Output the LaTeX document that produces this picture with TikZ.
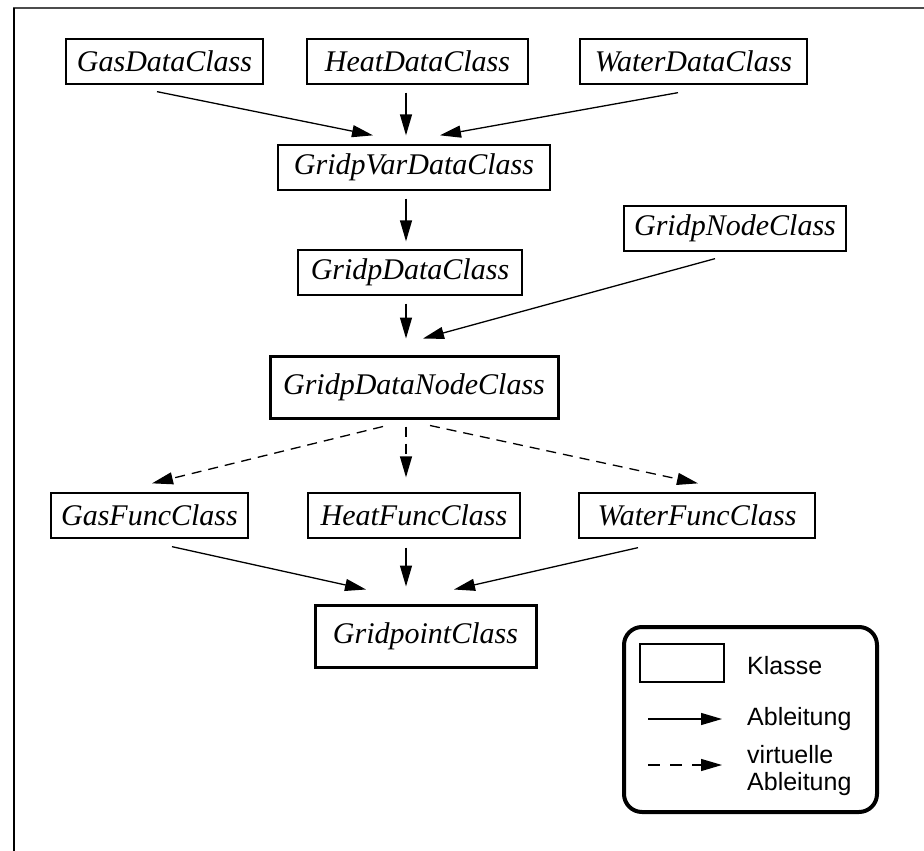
\documentclass[tikz,border=0pt]{standalone}
\usepackage{fontspec}
\setmainfont{Liberation Serif}
\newfontfamily\legendfont{Liberation Sans}
\usetikzlibrary{arrows.meta}
\tikzset{
  cls/.style={draw, line width=1.3pt, inner sep=0pt, minimum height=45pt,
    font=\fontsize{30}{36}\selectfont\itshape},
  clsthick/.style={cls, line width=3pt, minimum height=62pt},
  deriv/.style={line width=1.3pt, -{Triangle[length=21pt,width=12pt]}},
  vderiv/.style={deriv, dash pattern=on 10pt off 7pt},
  legtext/.style={anchor=west, inner sep=0pt, align=left,
    font=\legendfont\fontsize{25}{27}\selectfont},
}
\begin{document}
\begin{tikzpicture}[x=1pt,y=-1pt]
\useasboundingbox (0,0) rectangle (924,851);
% page frame
\draw[line width=2pt, draw=black!70] (13,8.5) -- (924,8.5);
\draw[line width=2pt] (13.5,8) -- (13.5,851);

% classes
\node[cls, minimum width=197pt] (gasdata)   at (164.5,61.5) {GasDataClass};
\node[cls, minimum width=221pt] (heatdata)  at (417.5,61.5) {HeatDataClass};
\node[cls, minimum width=227pt] (waterdata) at (693.5,61.5) {WaterDataClass};
\node[cls, minimum width=272pt] (vardata)   at (414,167.5)  {GridpVarDataClass};
\node[cls, minimum width=224pt] (gdata)     at (410,272.5)  {GridpDataClass};
\node[cls, minimum width=222pt] (gnode)     at (735,228.5)  {GridpNodeClass};
\node[clsthick, minimum width=288pt] (dnode) at (414,387)   {GridpDataNodeClass};
\node[cls, minimum width=197pt] (gasfunc)   at (149.5,515.5) {GasFuncClass};
\node[cls, minimum width=212pt] (heatfunc)  at (414,515.5)  {HeatFuncClass};
\node[cls, minimum width=236pt] (waterfunc) at (697,515.5)  {WaterFuncClass};
\node[clsthick, minimum width=221pt] (gpoint) at (425.5,636) {GridpointClass};

% derivations
\draw[deriv] ([xshift=-7.5pt,yshift=-7pt]gasdata.south)   -- ([xshift=-41pt,yshift=9pt]vardata.north);
\draw[deriv] ([xshift=-11.5pt,yshift=-8pt]heatdata.south) -- ([xshift=-8pt,yshift=9pt]vardata.north);
\draw[deriv] ([xshift=-15.5pt,yshift=-8pt]waterdata.south) -- ([xshift=26pt,yshift=9pt]vardata.north);
\draw[deriv] ([xshift=-8pt,yshift=-8pt]vardata.south) -- ([xshift=-4pt,yshift=8pt]gdata.north);
\draw[deriv] ([xshift=-4pt,yshift=-8pt]gdata.south) -- ([xshift=-8pt,yshift=16pt]dnode.north);
\draw[deriv] ([xshift=-20pt,yshift=-7pt]gnode.south) -- ([xshift=9pt,yshift=16pt]dnode.north);

% virtual derivations
\draw[vderiv] ([xshift=-31pt,yshift=-7pt]dnode.south) -- ([xshift=2.5pt,yshift=9pt]gasfunc.north);
\draw[vderiv] ([xshift=-8pt,yshift=-7pt]dnode.south)  -- ([xshift=-8pt,yshift=15pt]heatfunc.north);
\draw[vderiv] ([xshift=16pt,yshift=-6pt]dnode.south)  -- ([xshift=1pt,yshift=9pt]waterfunc.north);

\draw[deriv] ([xshift=22.5pt,yshift=-8pt]gasfunc.south)   -- ([xshift=-59.5pt,yshift=14pt]gpoint.north);
\draw[deriv] ([xshift=-8pt,yshift=-9pt]heatfunc.south)    -- ([xshift=-19.5pt,yshift=17pt]gpoint.north);
\draw[deriv] ([xshift=-59pt,yshift=-9pt]waterfunc.south)  -- ([xshift=28.5pt,yshift=14pt]gpoint.north);

% legend
\node[draw, line width=4pt, rounded corners=18pt, minimum width=253pt,
      minimum height=185pt, inner sep=0pt] (legend) at (750.5,719.5) {};
\node[draw, line width=1.3pt, minimum width=84pt, minimum height=38pt,
      inner sep=0pt] (legbox) at (682,663) {};
\node[legtext] (legk) at (747,666) {Klasse};
\coordinate (lsa) at (648,719);
\coordinate (lsb) at (722,719);
\draw[deriv] (lsa) -- (lsb);
\node[legtext] (lega) at (747,719) {Ableitung};
\coordinate (lva) at (648,765);
\coordinate (lvb) at (722,765);
\draw[deriv, dash pattern=on 12pt off 10pt] (lva) -- (lvb);
\node[legtext] (legv) at (747,771) {virtuelle\\Ableitung};
\end{tikzpicture}
\end{document}
